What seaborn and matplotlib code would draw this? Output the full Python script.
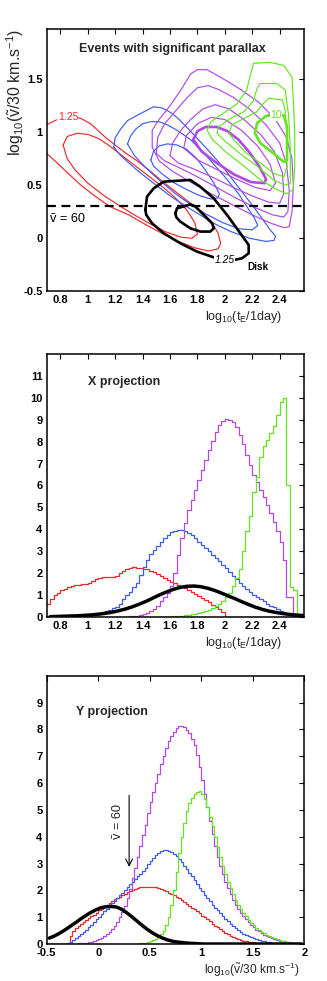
import numpy as np
import pandas as pd
import matplotlib
matplotlib.use("Agg")
import matplotlib.pyplot as plt
import seaborn as sns

sns.set_theme(style="white")
plt.rcParams["font.family"] = ["Liberation Sans", "DejaVu Sans"]
plt.rcParams["mathtext.fontset"] = "custom"
plt.rcParams["mathtext.rm"] = "Liberation Sans"
plt.rcParams["mathtext.it"] = "Liberation Sans:italic"
plt.rcParams["mathtext.bf"] = "Liberation Sans:bold"

RED, BLUE, PURPLE, GREEN, BLACK = "#f0282a", "#3c5cf5", "#b247ec", "#62e61e", "black"

# ---------------- contour data (log10 tE, log10 v~/30) ----------------
red_outer_x = [0.70, 0.76, 0.82, 0.88, 0.95, 1.02, 1.08, 1.13, 1.20, 1.28, 1.36, 1.45, 1.55, 1.65, 1.75, 1.83, 1.90, 1.95, 1.97, 1.95, 1.88, 1.78, 1.66, 1.55, 1.42, 1.30, 1.16, 1.05, 0.95, 0.85, 0.76, 0.70]
red_outer_y = [1.07, 1.11, 1.14, 1.15, 1.13, 1.08, 1.01, 0.95, 0.88, 0.80, 0.73, 0.64, 0.53, 0.43, 0.33, 0.25, 0.16, 0.05, -0.05, -0.10, -0.12, -0.09, -0.03, 0.04, 0.13, 0.22, 0.30, 0.40, 0.50, 0.62, 0.73, 0.80]
red_inner_x = [0.82, 0.85, 0.92, 1.00, 1.08, 1.16, 1.25, 1.35, 1.45, 1.55, 1.64, 1.72, 1.78, 1.80, 1.76, 1.68, 1.57, 1.45, 1.34, 1.24, 1.12, 1.00, 0.91, 0.85, 0.82]
red_inner_y = [0.88, 0.96, 0.99, 0.98, 0.94, 0.87, 0.78, 0.68, 0.58, 0.48, 0.38, 0.27, 0.15, 0.04, 0.00, 0.01, 0.06, 0.14, 0.22, 0.30, 0.40, 0.52, 0.64, 0.75, 0.88]

blue_outer_x = [1.19, 1.20, 1.24, 1.29, 1.36, 1.42, 1.48, 1.54, 1.60, 1.66, 1.72, 1.80, 1.90, 2.00, 2.10, 2.19, 2.27, 2.33, 2.37, 2.36, 2.30, 2.18, 2.05, 1.92, 1.82, 1.72, 1.60, 1.48, 1.38, 1.30, 1.24, 1.19]
blue_outer_y = [0.86, 0.95, 1.03, 1.11, 1.16, 1.20, 1.24, 1.23, 1.19, 1.13, 1.05, 0.94, 0.80, 0.65, 0.48, 0.33, 0.19, 0.08, 0.02, -0.02, -0.03, 0.00, 0.06, 0.14, 0.22, 0.30, 0.40, 0.52, 0.62, 0.71, 0.78, 0.86]
blue_mid_x = [1.29, 1.31, 1.35, 1.40, 1.46, 1.52, 1.58, 1.65, 1.75, 1.87, 2.00, 2.10, 2.17, 2.22, 2.24, 2.20, 2.10, 1.98, 1.86, 1.76, 1.64, 1.52, 1.42, 1.34, 1.29]
blue_mid_y = [0.89, 0.96, 1.03, 1.08, 1.10, 1.10, 1.07, 1.02, 0.93, 0.77, 0.58, 0.42, 0.28, 0.18, 0.12, 0.08, 0.09, 0.15, 0.23, 0.31, 0.42, 0.55, 0.67, 0.78, 0.89]
blue_inner_x = [1.46, 1.48, 1.52, 1.58, 1.65, 1.72, 1.79, 1.86, 1.92, 1.96, 1.95, 1.90, 1.82, 1.72, 1.62, 1.54, 1.48, 1.46]
blue_inner_y = [0.74, 0.82, 0.87, 0.89, 0.88, 0.84, 0.76, 0.64, 0.52, 0.42, 0.38, 0.37, 0.40, 0.46, 0.53, 0.61, 0.68, 0.74]

purple_1_x = [1.47, 1.47, 1.52, 1.60, 1.68, 1.75, 1.80, 1.87, 1.94, 2.02, 2.12, 2.25, 2.37, 2.45, 2.49, 2.50, 2.49, 2.47, 2.43, 2.34, 2.20, 2.05, 1.90, 1.75, 1.62, 1.52, 1.47]
purple_1_y = [0.86, 1.02, 1.12, 1.25, 1.40, 1.55, 1.59, 1.59, 1.54, 1.48, 1.40, 1.28, 1.12, 0.95, 0.75, 0.50, 0.25, 0.11, 0.10, 0.14, 0.22, 0.32, 0.42, 0.53, 0.63, 0.73, 0.86]
purple_2_x = [1.50, 1.51, 1.56, 1.64, 1.72, 1.80, 1.88, 1.96, 2.06, 2.18, 2.30, 2.40, 2.45, 2.47, 2.46, 2.43, 2.35, 2.22, 2.08, 1.94, 1.80, 1.66, 1.56, 1.50]
purple_2_y = [0.80, 0.95, 1.08, 1.20, 1.32, 1.42, 1.44, 1.40, 1.33, 1.22, 1.07, 0.90, 0.70, 0.45, 0.25, 0.20, 0.22, 0.29, 0.38, 0.48, 0.58, 0.67, 0.73, 0.80]
purple_3_x = [1.60, 1.62, 1.68, 1.75, 1.84, 1.93, 2.03, 2.14, 2.26, 2.36, 2.42, 2.43, 2.40, 2.32, 2.20, 2.06, 1.92, 1.78, 1.66, 1.60]
purple_3_y = [0.78, 0.90, 1.02, 1.12, 1.22, 1.26, 1.22, 1.12, 0.98, 0.82, 0.62, 0.42, 0.33, 0.34, 0.40, 0.48, 0.57, 0.65, 0.71, 0.78]
purple_4_x = [1.70, 1.72, 1.80, 1.90, 2.00, 2.12, 2.24, 2.33, 2.37, 2.33, 2.22, 2.08, 1.94, 1.80, 1.70]
purple_4_y = [0.85, 0.97, 1.08, 1.14, 1.12, 1.02, 0.87, 0.70, 0.52, 0.45, 0.48, 0.56, 0.65, 0.74, 0.85]
purple_thick_x = [1.77, 1.80, 1.86, 1.94, 2.02, 2.10, 2.18, 2.25, 2.30, 2.29, 2.19, 2.07, 1.93, 1.83, 1.77]
purple_thick_y = [0.93, 1.01, 1.05, 1.05, 1.01, 0.93, 0.81, 0.68, 0.56, 0.52, 0.53, 0.60, 0.72, 0.82, 0.93]

green_1_x = [2.21, 2.33, 2.43, 2.49, 2.50, 2.51, 2.51, 2.50, 2.45, 2.38, 2.26, 2.14, 2.02, 1.91, 1.87, 1.90, 1.99, 2.09, 2.16, 2.19, 2.21]
green_1_y = [1.65, 1.66, 1.63, 1.52, 1.30, 0.99, 0.68, 0.46, 0.42, 0.46, 0.55, 0.68, 0.80, 0.93, 1.02, 1.10, 1.18, 1.27, 1.40, 1.56, 1.65]
green_2_x = [2.26, 2.38, 2.44, 2.466, 2.478, 2.478, 2.44, 2.356, 2.235, 2.11, 1.99, 1.943, 1.955, 2.04, 2.14, 2.21, 2.235, 2.26]
green_2_y = [1.46, 1.46, 1.40, 1.15, 0.83, 0.52, 0.50, 0.55, 0.68, 0.80, 0.93, 0.99, 1.05, 1.13, 1.195, 1.30, 1.415, 1.46]
green_3_x = [2.32, 2.42, 2.44, 2.454, 2.454, 2.43, 2.356, 2.26, 2.16, 2.065, 2.03, 2.05, 2.14, 2.235, 2.28, 2.32]
green_3_y = [1.32, 1.305, 1.21, 0.96, 0.676, 0.58, 0.613, 0.71, 0.80, 0.93, 0.99, 1.07, 1.13, 1.195, 1.27, 1.32]
green_thick_x = [2.32, 2.43, 2.454, 2.454, 2.43, 2.356, 2.26, 2.22, 2.235, 2.296, 2.32]
green_thick_y = [1.16, 1.16, 1.05, 0.74, 0.72, 0.80, 0.897, 0.99, 1.085, 1.15, 1.16]

black_outer_x = [1.42, 1.432, 1.481, 1.554, 1.748, 1.82, 1.919, 2.016, 2.113, 2.174, 2.174, 2.125, 2.065, 1.99, 1.919, 1.797, 1.675, 1.554, 1.469, 1.427, 1.42]
black_outer_y = [0.267, 0.393, 0.471, 0.534, 0.55, 0.487, 0.377, 0.22, 0.047, -0.063, -0.142, -0.189, -0.205, -0.20, -0.18, -0.126, -0.047, 0.047, 0.141, 0.22, 0.267]
black_inner_x = [1.639, 1.651, 1.70, 1.748, 1.785, 1.846, 1.907, 1.919, 1.894, 1.822, 1.748, 1.675, 1.646, 1.639]
black_inner_y = [0.236, 0.283, 0.30, 0.32, 0.30, 0.22, 0.141, 0.094, 0.063, 0.063, 0.094, 0.157, 0.198, 0.236]

v60_log = 0.3  # log10(60/30)

# ---------------- X projection (bins 0.025 wide, 0.70 .. 2.60) ----------------
x_edges = [round(0.70 + 0.025 * i, 4) for i in range(77)]
x_centers = [round(e + 0.0125, 4) for e in x_edges[:-1]]
xproj_red = [0.58, 0.80, 0.98, 1.10, 1.20, 1.28, 1.34, 1.39, 1.43, 1.46, 1.48, 1.50,
             1.55, 1.63, 1.70, 1.77, 1.81, 1.83, 1.83, 1.82, 1.88, 2.00, 2.10, 2.18,
             2.23, 2.25, 2.24, 2.21, 2.20, 2.17, 2.10, 2.02, 1.95, 1.86, 1.77, 1.68,
             1.60, 1.52, 1.44, 1.37, 1.30, 1.21, 1.12, 1.04, 0.95, 0.85, 0.75, 0.65,
             0.55, 0.45, 0.33, 0.20,
             0, 0, 0, 0, 0, 0, 0, 0, 0, 0, 0, 0, 0, 0, 0, 0, 0, 0, 0, 0, 0, 0, 0, 0]
xproj_blue = [0.0, 0.0, 0.01, 0.01, 0.02, 0.02, 0.03, 0.04, 0.05, 0.06, 0.08, 0.09,
              0.11, 0.13, 0.16, 0.19, 0.23, 0.27, 0.32, 0.38, 0.45, 0.6, 0.8, 1.0,
              1.15, 1.35, 1.55, 1.9, 2.25, 2.6, 2.85, 3.05, 3.25, 3.42, 3.58, 3.72,
              3.85, 3.93, 3.98, 3.97, 3.92, 3.84, 3.72, 3.58, 3.43, 3.28, 3.13, 2.98,
              2.83, 2.68, 2.53, 2.38, 2.22, 2.05, 1.88, 1.72, 1.56, 1.41, 1.27, 1.13,
              1.0, 0.9, 0.8, 0.7, 0.6, 0.5, 0.42, 0.34, 0.26, 0.19, 0.13, 0.08,
              0.05, 0.03, 0.01, 0.0]
xproj_purple = [0, 0, 0, 0, 0, 0, 0, 0, 0, 0, 0, 0, 0, 0, 0, 0, 0, 0, 0, 0, 0, 0, 0, 0,
                0.01, 0.03, 0.05, 0.08, 0.12, 0.17, 0.25, 0.35, 0.5, 0.7, 0.9, 1.1,
                1.4, 2.0, 2.8, 3.6, 4.3, 4.9, 5.35, 5.8, 6.25, 6.7, 7.15, 7.6,
                8.05, 8.45, 8.75, 8.95, 9.05, 9.0, 8.9, 8.65, 8.3, 7.9, 7.4, 6.95,
                6.5, 6.15, 5.8, 5.45, 5.1, 4.75, 4.35, 3.9, 3.4, 2.6, 0.9, 0.9,
                0.1, 0.02, 0.0, 0.0]
xproj_green = [0, 0, 0, 0, 0, 0, 0, 0, 0, 0, 0, 0, 0, 0, 0, 0, 0, 0,
               0, 0, 0, 0, 0, 0, 0, 0, 0, 0, 0, 0, 0, 0, 0, 0, 0, 0,
               0.01, 0.02, 0.03, 0.05, 0.07, 0.09, 0.11, 0.14, 0.17, 0.21, 0.26, 0.32,
               0.39, 0.47, 0.57, 0.7, 0.88, 1.1, 1.4, 1.75, 2.2, 3.0, 3.9, 4.6,
               5.7, 6.4, 7.3, 7.8, 8.1, 8.4, 8.7, 9.2, 9.8, 10.0, 6.0, 1.35,
               1.2, 0.08, 0.0, 0.0]
x_centers_coarse = [round(0.725 + 0.05 * i, 3) for i in range(38)]
xproj_black = [0.0, 0.01, 0.02, 0.03, 0.04, 0.06, 0.08, 0.11, 0.15, 0.2, 0.27, 0.35, 0.45, 0.57, 0.7, 0.85, 1.0, 1.13, 1.25, 1.34, 1.39, 1.4, 1.37, 1.3, 1.2, 1.08,
               0.95, 0.82, 0.68, 0.55, 0.43, 0.33, 0.25, 0.19, 0.14, 0.1, 0.07, 0.05]

# ---------------- Y projection (bins 0.025 wide, -0.5 .. 2.0) ----------------
y_edges = [round(-0.50 + 0.025 * i, 4) for i in range(101)]
y_centers = [round(e + 0.0125, 4) for e in y_edges[:-1]]
yproj_red = [0, 0, 0, 0, 0, 0, 0, 0,
             0.05, 0.3, 0.5, 0.6, 0.68, 0.75, 0.82, 0.89, 0.96, 1.03, 1.1, 1.17,
             1.25, 1.32, 1.4, 1.47, 1.54, 1.6, 1.66, 1.71, 1.77, 1.83, 1.88, 1.93,
             1.98, 2.02, 2.05, 2.08, 2.11, 2.13, 2.14, 2.14, 2.14, 2.13, 2.11, 2.08,
             2.05, 2.01, 1.97, 1.92, 1.87, 1.82, 1.76, 1.7, 1.63, 1.56, 1.5, 1.43,
             1.36, 1.29, 1.22, 1.14, 1.06, 0.99, 0.92, 0.84, 0.76, 0.69, 0.62, 0.55,
             0.48, 0.42, 0.36, 0.3, 0.26, 0.22, 0.18, 0.15, 0.13, 0.11, 0.09, 0.08,
             0.06, 0.05, 0.04, 0.03, 0.02, 0.01,
             0, 0, 0, 0, 0, 0, 0, 0, 0, 0, 0, 0, 0, 0]
yproj_blue = [0, 0, 0, 0, 0, 0, 0, 0,
              0.02, 0.08, 0.15, 0.22, 0.3, 0.38, 0.45, 0.53, 0.62, 0.72, 0.82, 0.92,
              1.02, 1.12, 1.22, 1.32, 1.42, 1.52, 1.62, 1.72, 1.82, 1.92, 2.02, 2.12,
              2.22, 2.32, 2.42, 2.52, 2.62, 2.73, 2.85, 2.97, 3.08, 3.2, 3.3, 3.38,
              3.45, 3.49, 3.5, 3.48, 3.44, 3.37, 3.28, 3.17, 3.05, 2.92, 2.79, 2.66,
              2.52, 2.37, 2.23, 2.09, 1.96, 1.84, 1.71, 1.59, 1.47, 1.36, 1.25, 1.14,
              1.04, 0.94, 0.85, 0.76, 0.67, 0.59, 0.52, 0.45, 0.39, 0.34, 0.29, 0.25,
              0.21, 0.18, 0.15, 0.12, 0.1, 0.08, 0.06, 0.05, 0.04, 0.03, 0.02, 0.015,
              0.01, 0.005,
              0, 0, 0, 0, 0, 0]
yproj_purple = [0, 0, 0, 0, 0, 0, 0, 0, 0, 0, 0,
                0.01, 0.02, 0.03, 0.04, 0.05, 0.07, 0.09, 0.11, 0.14, 0.18, 0.23, 0.29,
                0.36, 0.45, 0.55, 0.68, 0.82, 1.0, 1.2, 1.4, 1.7, 2.05, 2.45, 2.85,
                3.25, 3.65, 4.05, 4.45, 4.9, 5.3, 5.65, 6.0, 6.35, 6.7, 7.0, 7.3,
                7.55, 7.75, 7.92, 8.05, 8.12, 8.13, 8.08, 7.98, 7.85, 7.65, 7.4, 7.05,
                6.6, 6.1, 5.6, 5.1, 4.6, 4.1, 3.65, 3.25, 2.9, 2.6, 2.32, 2.07,
                1.85, 1.65, 1.47, 1.31, 1.17, 1.04, 0.92, 0.81, 0.71, 0.62, 0.54, 0.47,
                0.41, 0.35, 0.3, 0.26, 0.22, 0.18, 0.15, 0.13, 0.11, 0.09, 0.07, 0.06,
                0.05, 0.04, 0.03, 0.02, 0.01]
yproj_green = [0, 0, 0, 0, 0, 0, 0, 0, 0, 0, 0, 0, 0, 0, 0, 0, 0,
               0, 0, 0, 0, 0, 0, 0, 0, 0, 0, 0, 0, 0, 0, 0, 0,
               0.005, 0.01, 0.015, 0.02, 0.03, 0.05, 0.07, 0.1, 0.14, 0.19, 0.26, 0.36,
               0.5, 0.7, 1.0, 1.45, 2.0, 2.7, 3.4, 4.0, 4.5, 4.95, 5.25, 5.45,
               5.6, 5.68, 5.7, 5.6, 5.4, 5.1, 4.75, 4.4, 4.0, 3.6, 3.25, 2.9,
               2.6, 2.33, 2.08, 1.85, 1.65, 1.47, 1.31, 1.16, 1.03, 0.91, 0.8, 0.7,
               0.61, 0.53, 0.46, 0.4, 0.34, 0.29, 0.25, 0.21, 0.18, 0.15, 0.12, 0.1,
               0.08, 0.06, 0.05, 0.04, 0.03, 0.02, 0.01]
y_centers_coarse = [round(-0.475 + 0.05 * i, 3) for i in range(50)]
yproj_black = [0.22, 0.3, 0.4, 0.52, 0.65, 0.78, 0.92, 1.05, 1.17, 1.27, 1.35, 1.39, 1.4, 1.38, 1.3, 1.17, 1.02, 0.86, 0.7, 0.55, 0.42, 0.31, 0.22, 0.15, 0.1,
               0.07, 0.05, 0.03, 0.02, 0.01, 0, 0, 0, 0, 0, 0, 0, 0, 0, 0, 0, 0, 0, 0, 0, 0, 0, 0, 0, 0]

# ---------------- ticks ----------------
x_ticks_te = [0.8, 1.0, 1.2, 1.4, 1.6, 1.8, 2.0, 2.2, 2.4]
x_ticklabels_te = ["0.8", "1", "1.2", "1.4", "1.6", "1.8", "2", "2.2", "2.4"]
y_ticks_1 = [-0.5, 0, 0.5, 1, 1.5]
y_ticklabels_1 = ["-0.5", "0", "0.5", "1", "1.5"]
y_ticks_2 = list(range(0, 12))
y_ticks_3 = list(range(0, 10))
x_ticks_3 = [-0.5, 0, 0.5, 1, 1.5, 2]
x_ticklabels_3 = ["-0.5", "0", "0.5", "1", "1.5", "2"]

XLAB_TE = r"log$_{\mathregular{10}}$(t$_{\mathregular{E}}$/1day)"
YLAB_V = r"log$_{\mathregular{10}}$($\tilde{\mathregular{v}}$/30 km.s$^{\mathregular{-1}}$)"

fig = plt.figure(figsize=(3.27, 9.81), dpi=100)
fig.patch.set_facecolor("white")
L, W = 0.1428, 0.7878
ax1 = fig.add_axes([L, 0.7031, W, 0.2669])
ax2 = fig.add_axes([L, 0.3714, W, 0.2675])
ax3 = fig.add_axes([L, 0.0377, W, 0.2735])


def style(ax):
    ax.set_facecolor("white")
    for s in ax.spines.values():
        s.set_color("black")
        s.set_linewidth(1.1)
        s.set_visible(True)
    ax.tick_params(direction="in", length=3.5, width=0.8, top=True, right=True,
                   labelsize=8, pad=3, colors="black")
    for lab in ax.get_xticklabels() + ax.get_yticklabels():
        lab.set_fontweight("bold")
    ax.grid(False)


def hist_steps(ax, centers, values, edges, color):
    df = pd.DataFrame({"pos": centers, "w": values})
    sns.histplot(data=df, x="pos", weights="w", bins=edges, element="step", fill=False,
                 color=color, linewidth=0.9, ax=ax)


# ---------------- panel 1 ----------------
thin, thick = 0.85, 1.9
for xs, ys, c, lw in [
    (red_outer_x, red_outer_y, RED, thin), (red_inner_x, red_inner_y, RED, thin),
    (blue_outer_x, blue_outer_y, BLUE, thin), (blue_mid_x, blue_mid_y, BLUE, thin),
    (blue_inner_x, blue_inner_y, BLUE, thin),
    (purple_1_x, purple_1_y, PURPLE, thin), (purple_2_x, purple_2_y, PURPLE, thin),
    (purple_3_x, purple_3_y, PURPLE, thin), (purple_4_x, purple_4_y, PURPLE, thin),
    (purple_thick_x, purple_thick_y, PURPLE, thick),
    (green_1_x, green_1_y, GREEN, thin), (green_2_x, green_2_y, GREEN, thin),
    (green_3_x, green_3_y, GREEN, thin), (green_thick_x, green_thick_y, GREEN, thick),
    (black_outer_x, black_outer_y, BLACK, thick), (black_inner_x, black_inner_y, BLACK, thick),
]:
    ax1.plot(xs, ys, color=c, lw=lw, solid_joinstyle="round")

ax1.axhline(v60_log, color="black", lw=1.6, ls=(0, (4, 2.5)))
bb = dict(facecolor="white", edgecolor="none", pad=0.2)
ax1.text(0.855, 1.14, "1.25", color=RED, fontsize=7.5, ha="center", va="center", bbox=bb)
ax1.text(2.375, 1.16, "10", color=GREEN, fontsize=7.5, ha="center", va="center", bbox=bb)
ax1.text(2.0, -0.205, "1.25", color="black", fontsize=7.5, ha="center", va="center",
         style="italic", bbox=bb)
ax1.text(2.24, -0.27, "Disk", color="black", fontsize=7.2, fontweight="bold", ha="center", va="center")
ax1.text(0.727, 0.186, "ṽ = 60", color="black", fontsize=9.2, ha="left", va="center")
ax1.text(1.615, 1.79, "Events with significant parallax", fontsize=9, fontweight="bold",
         ha="center", va="center")
ax1.set_xlim(0.70, 2.58)
ax1.set_ylim(-0.5, 1.97)
ax1.set_xticks(x_ticks_te, x_ticklabels_te)
ax1.set_yticks(y_ticks_1, y_ticklabels_1)
ax1.set_xlabel(XLAB_TE, fontsize=9)
ax1.xaxis.set_label_coords(0.913, -0.099)
ax1.xaxis.label.set_ha("right")
ax1.xaxis.label.set_va("center")
ax1.set_ylabel(YLAB_V, fontsize=11.4, loc="top")
ax1.yaxis.set_label_coords(-0.123, 1.0)
ax1.yaxis.label.set_va("center")
style(ax1)

# ---------------- panel 2 ----------------
for vals, c in [(xproj_red, RED), (xproj_blue, BLUE), (xproj_purple, PURPLE), (xproj_green, GREEN)]:
    hist_steps(ax2, x_centers, vals, x_edges, c)
sns.lineplot(x=x_centers_coarse, y=xproj_black, color="black", linewidth=2.5, ax=ax2)
ax2.text(1.0, 10.73, "X projection", fontsize=9, fontweight="bold", ha="left", va="center")
ax2.set_xlim(0.70, 2.58)
ax2.set_ylim(0, 12)
ax2.set_xticks(x_ticks_te, x_ticklabels_te)
ax2.set_yticks(y_ticks_2, [str(v) for v in y_ticks_2])
ax2.set_ylabel("")
ax2.set_xlabel(XLAB_TE, fontsize=9)
ax2.xaxis.set_label_coords(0.913, -0.099)
ax2.xaxis.label.set_ha("right")
ax2.xaxis.label.set_va("center")
style(ax2)

# ---------------- panel 3 ----------------
for vals, c in [(yproj_red, RED), (yproj_blue, BLUE), (yproj_purple, PURPLE), (yproj_green, GREEN)]:
    hist_steps(ax3, y_centers, vals, y_edges, c)
sns.lineplot(x=y_centers_coarse, y=yproj_black, color="black", linewidth=2.5, ax=ax3)
ax3.text(-0.215, 8.65, "Y projection", fontsize=9, fontweight="bold", ha="left", va="center")
ax3.annotate("", xy=(v60_log, 2.77), xytext=(v60_log, 5.64),
             arrowprops=dict(arrowstyle="->", color="black", lw=0.8))
ax3.text(0.195, 4.57, "ṽ = 60", fontsize=9.2, rotation=90, ha="center", va="center")
ax3.set_xlim(-0.5, 2.0)
ax3.set_ylim(0, 10)
ax3.set_xticks(x_ticks_3, x_ticklabels_3)
ax3.set_yticks(y_ticks_3, [str(v) for v in y_ticks_3])
ax3.set_ylabel("")
ax3.set_xlabel(YLAB_V, fontsize=8.6)
ax3.xaxis.set_label_coords(0.98, -0.097)
ax3.xaxis.label.set_ha("right")
ax3.xaxis.label.set_va("center")
style(ax3)

fig.savefig("out.png", dpi=100, facecolor="white")
